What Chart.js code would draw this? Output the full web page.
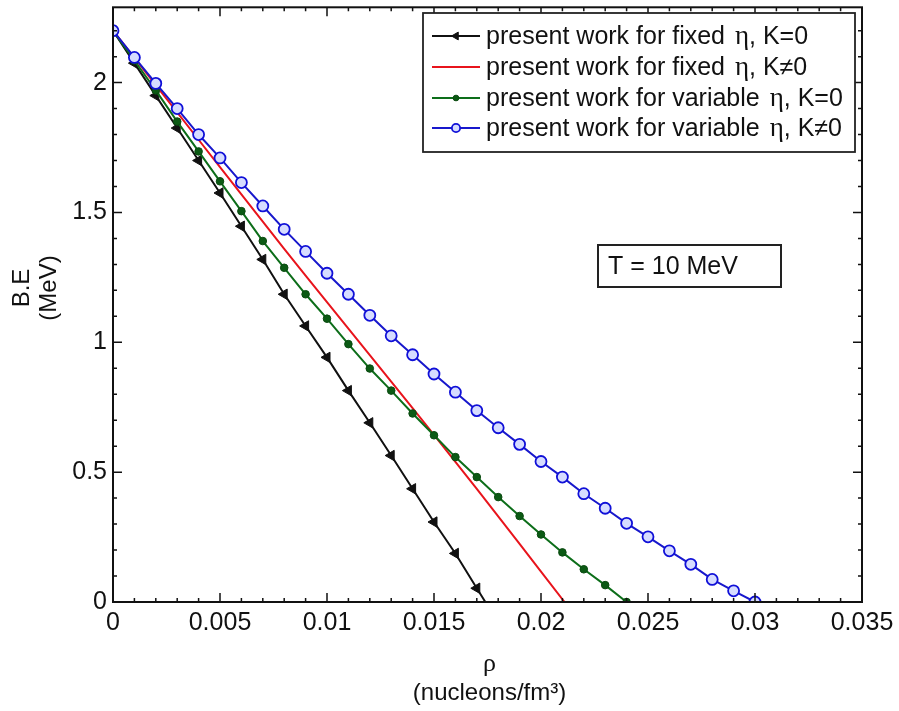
<!DOCTYPE html>
<html>
<head>
<meta charset="utf-8">
<script src="https://cdn.jsdelivr.net/npm/chart.js@4.4.1/dist/chart.umd.min.js"></script>
<style>
html,body{margin:0;padding:0;background:#fff;}
#wrap{width:899px;height:711px;position:relative;}
</style>
</head>
<body>
<div id="wrap"><canvas id="c" width="899" height="711"></canvas></div>
<script>
// ---- data ----
const blackX = [0,0.001,0.002,0.003,0.004,0.005,0.006,0.007,0.008,0.009,0.010,0.011,0.012,0.013,0.014,0.015,0.016,0.017,0.0174];
const blackY = [2.2,2.075,1.95,1.825,1.70,1.575,1.447,1.319,1.185,1.063,0.942,0.814,0.690,0.564,0.436,0.308,0.187,0.053,0];

const redX = [0,0.001,0.002,0.003,0.004,0.005,0.006,0.007,0.008,0.009,0.010,0.011,0.012,0.013,0.014,0.015,0.016,0.017,0.018,0.019,0.020,0.0211];
const redY = [2.2,2.095,1.99,1.885,1.78,1.675,1.57,1.465,1.36,1.257,1.155,1.053,0.951,0.849,0.747,0.644,0.54,0.436,0.33,0.224,0.117,0];

const greenX = [0,0.001,0.002,0.003,0.004,0.005,0.006,0.007,0.008,0.009,0.010,0.011,0.012,0.013,0.014,0.015,0.016,0.017,0.018,0.019,0.020,0.021,0.022,0.023,0.024];
const greenY = [2.2,2.085,1.97,1.85,1.735,1.62,1.505,1.39,1.287,1.185,1.091,0.993,0.899,0.814,0.726,0.642,0.558,0.481,0.404,0.331,0.260,0.191,0.126,0.065,0];

const blueX = [0,0.001,0.002,0.003,0.004,0.005,0.006,0.007,0.008,0.009,0.010,0.011,0.012,0.013,0.014,0.015,0.016,0.017,0.018,0.019,0.020,0.021,0.022,0.023,0.024,0.025,0.026,0.027,0.028,0.029,0.030];
const blueY = [2.2,2.097,1.997,1.90,1.80,1.71,1.615,1.525,1.435,1.35,1.266,1.185,1.104,1.025,0.952,0.878,0.808,0.737,0.671,0.607,0.541,0.481,0.417,0.361,0.303,0.251,0.197,0.145,0.087,0.043,0];

const seriesLabels = [
  "present work for fixed η, K=0",
  "present work for fixed η, K≠0",
  "present work for variable η, K=0",
  "present work for variable η, K≠0"
];
const xTickValues = [0,0.005,0.01,0.015,0.02,0.025,0.03,0.035];
const xTickLabels = ["0","0.005","0.01","0.015","0.02","0.025","0.03","0.035"];
const yTickValues = [0,0.5,1,1.5,2];
const yTickLabels = ["0","0.5","1","1.5","2"];
const xTitle = ["ρ","(nucleons/fm³)"];
const yTitle = ["B.E","(MeV)"];
const annotationText = "T = 10 MeV";

const FONT = "'Liberation Sans', Arial, Helvetica, sans-serif";
const SERIF = "'Liberation Serif', 'Times New Roman', serif";

function pts(xs, ys){ return xs.map((x,i)=>({x:x, y:ys[i]})); }

const datasets = [
  {label:seriesLabels[0], data:pts(blackX,blackY), borderColor:'#111', backgroundColor:'#111',
   borderWidth:2, pointStyle:'triangle', pointRotation:-90,
   pointRadius:(c)=> c.dataIndex===blackX.length-1 ? 0 : 6,
   pointBorderWidth:1, order:4},
  {label:seriesLabels[1], data:pts(redX,redY), borderColor:'#e8141c', backgroundColor:'#e8141c',
   borderWidth:2, pointRadius:0, order:3},
  {label:seriesLabels[2], data:pts(greenX,greenY), borderColor:'#0d6e1a', backgroundColor:'#0b5a14',
   borderWidth:2, pointStyle:'circle', pointRadius:3.8, pointBorderColor:'#0a4a10', pointBorderWidth:1, order:2},
  {label:seriesLabels[3], data:pts(blueX,blueY), borderColor:'#1818cc', backgroundColor:'#d6dcff',
   borderWidth:2, pointStyle:'circle', pointRadius:5.5, pointBorderColor:'#1010d8', pointBorderWidth:1.8, order:1}
];

const framePlugin = {
  id:'frame',
  afterDatasetsDraw(chart){
    const {ctx, chartArea:a, scales:{x,y}} = chart;
    ctx.save();
    ctx.strokeStyle = '#111';
    ctx.lineWidth = 1.5;
    ctx.beginPath();
    for (let i=0;i<=35;i++){
      const v = i/1000; const px = x.getPixelForValue(v);
      const len = (i%5===0) ? 9 : 4;
      ctx.moveTo(px,a.bottom); ctx.lineTo(px,a.bottom-len);
      ctx.moveTo(px,a.top); ctx.lineTo(px,a.top+len);
    }
    for (let i=0;i<=22;i++){
      const v = i/10; const py = y.getPixelForValue(v);
      const len = (i%5===0) ? 9 : 4;
      ctx.moveTo(a.left,py); ctx.lineTo(a.left+len,py);
      ctx.moveTo(a.right,py); ctx.lineTo(a.right-len,py);
    }
    ctx.stroke();
    ctx.lineWidth = 2;
    ctx.strokeRect(a.left, a.top, a.right-a.left, a.bottom-a.top);

    // annotation box
    ctx.font = '25px ' + FONT;
    ctx.textBaseline = 'middle';
    ctx.textAlign = 'left';
    const bx = 598, by = 245, bw = 183, bh = 42;
    ctx.fillStyle = '#fff'; ctx.fillRect(bx,by,bw,bh);
    ctx.lineWidth = 2; ctx.strokeStyle='#222'; ctx.strokeRect(bx,by,bw,bh);
    ctx.fillStyle = '#111';
    ctx.fillText(annotationText, bx+10, by+bh/2+1);

    // legend box
    const lx = 423, ly = 13, lw = 432, lh = 139;
    ctx.fillStyle = '#fff'; ctx.fillRect(lx,ly,lw,lh);
    ctx.lineWidth = 1.8; ctx.strokeStyle = '#222'; ctx.strokeRect(lx,ly,lw,lh);
    const rows = [36, 67, 98, 128];
    chart.data.datasets.forEach((ds, i) => {
      const ry = rows[i];
      ctx.save();
      ctx.strokeStyle = ds.borderColor; ctx.lineWidth = 2;
      ctx.beginPath(); ctx.moveTo(lx+9, ry); ctx.lineTo(lx+57, ry); ctx.stroke();
      const r = typeof ds.pointRadius === 'function' ? 6 : ds.pointRadius;
      if (r > 0) {
        ctx.fillStyle = ds.backgroundColor;
        ctx.strokeStyle = ds.pointBorderColor || ds.borderColor;
        ctx.lineWidth = ds.pointBorderWidth || 1;
        Chart.helpers.drawPoint(ctx, {pointStyle: ds.pointStyle, rotation: ds.pointRotation||0, radius: r*0.75, borderWidth: ctx.lineWidth}, lx+33, ry);
      }
      ctx.restore();
      let tx = lx + 63;
      ctx.fillStyle = '#111';
      const parts = ds.label.split('η');
      parts.forEach((p, k) => {
        ctx.font = '25px ' + FONT;
        ctx.fillText(p, tx, ry+1); tx += ctx.measureText(p).width;
        if (k < parts.length-1) {
          ctx.font = '27px ' + SERIF;
          ctx.fillText('η', tx+3, ry+1); tx += ctx.measureText('η').width + 3;
        }
      });
    });

    // axis titles
    ctx.fillStyle = '#111';
    ctx.textAlign = 'center';
    const cx = (a.left + a.right)/2;
    ctx.font = '26px ' + SERIF;
    ctx.fillText(xTitle[0], cx+2, 664);
    ctx.font = '24px ' + FONT;
    ctx.fillText(xTitle[1], cx+2, 693);
    ctx.save();
    ctx.translate(22, 288);
    ctx.rotate(-Math.PI/2);
    ctx.fillText(yTitle[0], 0, 0);
    ctx.restore();
    ctx.save();
    ctx.translate(49, 288);
    ctx.rotate(-Math.PI/2);
    ctx.fillText(yTitle[1], 0, 0);
    ctx.restore();
    ctx.restore();
  }
};

new Chart(document.getElementById('c'), {
  type:'scatter',
  data:{datasets},
  options:{
    responsive:false,
    animation:false,
    showLine:true,
    layout:{padding:{left:0, right:37, top:5, bottom:0}},
    elements:{line:{tension:0}},
    plugins:{legend:{display:false}, tooltip:{enabled:false}},
    scales:{
      x:{
        type:'linear', min:0, max:0.035,
        grid:{display:false, drawTicks:false},
        border:{display:false},
        afterBuildTicks:(s)=>{ s.ticks = xTickValues.map(v=>({value:v})); },
        afterFit:(s)=>{ s.height = 109; s.paddingLeft = 0; s.paddingRight = 0; },
        ticks:{padding:6, color:'#111', font:{family:FONT, size:25}, maxRotation:0,
               callback:(v,i)=> xTickLabels[i]}
      },
      y:{
        type:'linear', min:0, max:2.29,
        grid:{display:false, drawTicks:false},
        border:{display:false},
        afterBuildTicks:(s)=>{ s.ticks = yTickValues.map(v=>({value:v})); },
        afterFit:(s)=>{ s.width = 113; s.paddingTop = 0; s.paddingBottom = 0; },
        ticks:{padding:6, color:'#111', font:{family:FONT, size:25},
               callback:(v,i)=> yTickLabels[i]}
      }
    }
  },
  plugins:[framePlugin]
});
</script>
</body>
</html>
